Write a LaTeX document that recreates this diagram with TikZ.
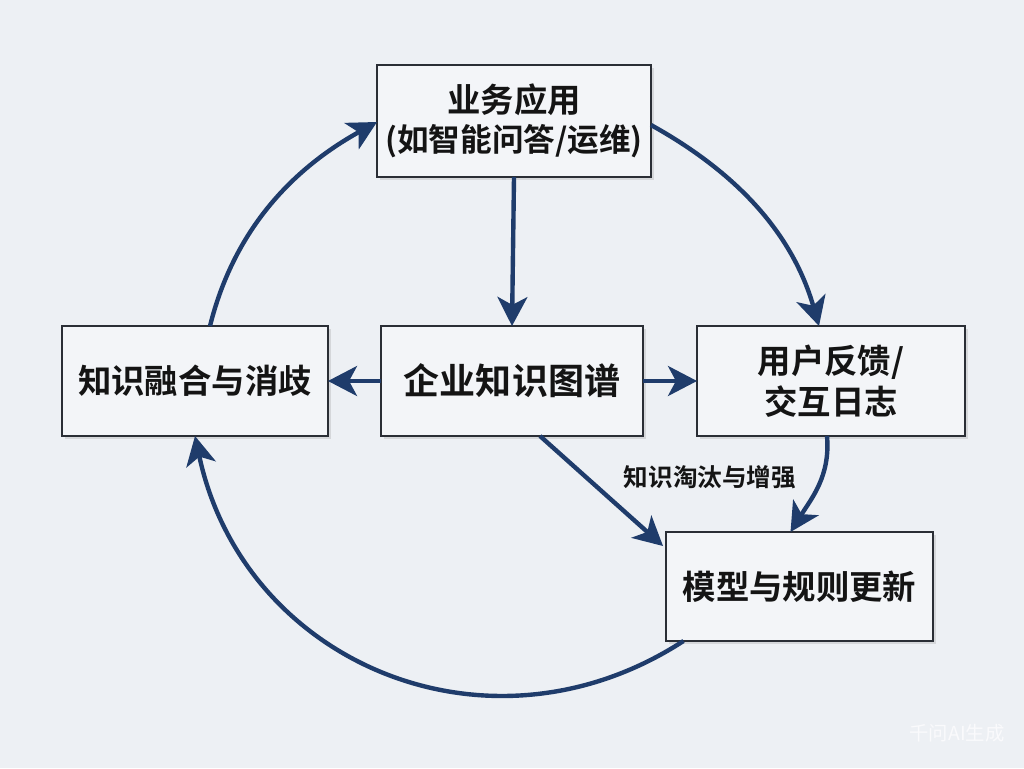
\documentclass[tikz,border=0pt]{standalone}
\usepackage{fontspec}
\setmainfont{Noto Sans CJK SC}[BoldFont={Noto Sans CJK SC Bold}]
\usetikzlibrary{arrows.meta,shadows}
\definecolor{bg}{HTML}{EDF0F4}
\definecolor{boxfill}{HTML}{F3F5F8}
\definecolor{boxline}{HTML}{2A2E35}
\definecolor{navy}{HTML}{1F3C6B}
\begin{document}
\begin{tikzpicture}[x=0.02cm,y=0.02cm,
  box/.style={draw=boxline, line width=1.4pt, fill=boxfill, inner sep=0pt, outer sep=0pt,
    align=center, text=black!92, font=\bfseries\fontsize{19}{23}\selectfont,
    drop shadow={shadow xshift=1.5pt, shadow yshift=-1.5pt, opacity=0.22}},
  flow/.style={draw=navy, line width=2.5pt, -{Stealth[length=16.5pt,width=17pt,inset=4.5pt]}},
  lbl/.style={font=\bfseries\fontsize{14}{16}\selectfont, text=black!92, inner sep=0pt},
]
\fill[bg] (0,0) rectangle (1024,768);
\useasboundingbox (0,0) rectangle (1024,768);

\node[box, minimum width=5.48cm, minimum height=2.24cm] (T) at (514,647)
  {业务应用\\[-1pt]{\fontsize{18}{22}\selectfont(如智能问答/运维)}};
\node[box, minimum width=5.32cm, minimum height=2.2cm] (L) at (195,387) {知识融合与消歧};
\node[box, minimum width=5.24cm, minimum height=2.2cm, font=\bfseries\fontsize{20.5}{24}\selectfont] (C) at (512,387) {企业知识图谱};
\node[box, minimum width=5.36cm, minimum height=2.2cm, font=\bfseries\fontsize{19}{23.5}\selectfont] (R) at (831,387) {用户反馈/\\交互日志};
\node[box, minimum width=5.34cm, minimum height=2.18cm] (B) at (799.5,181.5) {模型与规则更新};

% straight arrows
\draw[flow] (T.south) -- (C.north);
\draw[flow] (C.west) -- (L.east);
\draw[flow] (C.east) -- (R.west);
\draw[flow] ([shift={(28,0)}]C.south) -- ([shift={(-3,-14)}]B.north west);
\node[lbl] (E) at (710,291) {知识淘汰与增强};

% curved arrows
\draw[flow] ([shift={(-4,0)}]R.south) to[out=-85, in=58] ([shift={(-9,0)}]B.north);
\draw[flow] ([shift={(15,0)}]L.north) to[out=76, in=209, looseness=0.95] ([shift={(0,-1)}]T.west);
\draw[flow] ([shift={(0,-4)}]T.east) to[out=-29, in=106, looseness=0.95] ([shift={(-12,0)}]R.north);
\draw[flow] ([shift={(-116,0)}]B.south) to[out=213, in=282, looseness=1.12] (L.south);

% watermark
\node[font=\fontsize{11}{13}\selectfont, text=white!70!bg, inner sep=0pt] (W) at (957,35) {千问AI生成};
\end{tikzpicture}
\end{document}
